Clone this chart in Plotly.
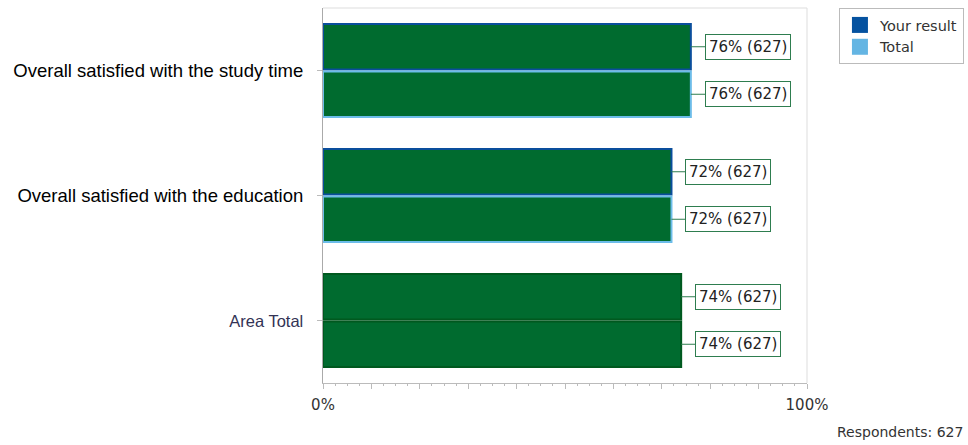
import plotly.graph_objects as go

categories = ["Overall satisfied with the study time", "Overall satisfied with the education", "Area Total"]
tick_text = [
    "<span style='font-size:18.5px;color:#000000'>Overall satisfied with the study time</span>",
    "<span style='font-size:18.5px;color:#000000'>Overall satisfied with the education</span>",
    "<span style='font-size:16.5px;color:#333355'>Area Total</span>",
]
your_result = [76, 72, 74]
total = [76, 72, 74]
counts_your = [627, 627, 627]
counts_total = [627, 627, 627]
respondents = 627
series_names = ["Your result", "Total"]

GREEN = "#006B2F"
DARKBLUE = "#0A4E9C"
LIGHTBLUE = "#6CBCE9"
AREA_EDGE = "#00591F"
LABEL_EDGE = "#2E7D4F"

idx = list(range(len(categories)))

fig = go.Figure()
fig.add_trace(go.Bar(
    y=idx, x=your_result, orientation="h", name=series_names[0], showlegend=False,
    marker=dict(color=GREEN, line=dict(color=[DARKBLUE, DARKBLUE, AREA_EDGE], width=2)),
    hoverinfo="skip",
))
fig.add_trace(go.Bar(
    y=idx, x=total, orientation="h", name=series_names[1], showlegend=False,
    marker=dict(color=GREEN, line=dict(color=[LIGHTBLUE, LIGHTBLUE, AREA_EDGE], width=2)),
    hoverinfo="skip",
))
# legend entries (blue swatches as in the reference legend)
fig.add_trace(go.Scatter(x=[None], y=[None], mode="markers", name=series_names[0],
                         marker=dict(symbol="square", size=16, color="#0552A0")))
fig.add_trace(go.Scatter(x=[None], y=[None], mode="markers", name=series_names[1],
                         marker=dict(symbol="square", size=16, color="#64B5E3")))

annotations = []
for vals, cnts, off in [(your_result, counts_your, -0.19), (total, counts_total, 0.19)]:
    for i, (v, c) in enumerate(zip(vals, cnts)):
        annotations.append(dict(
            x=v, y=i + off, xref="x", yref="y",
            text=f"{v}% ({c})", showarrow=True, arrowhead=0, arrowwidth=1,
            arrowcolor=LABEL_EDGE, ax=57, ay=0, standoff=0,
            bordercolor=LABEL_EDGE, borderwidth=1, borderpad=3, bgcolor="white",
            font=dict(family="DejaVu Sans, Liberation Sans", size=15, color="#222222"),
        ))
annotations.append(dict(
    x=1.326, y=-0.131, xref="paper", yref="paper", xanchor="right", yanchor="middle",
    text=f"Respondents: {respondents}", showarrow=False,
    font=dict(family="DejaVu Sans, Liberation Sans", size=14, color="#333333"),
))

fig.update_layout(
    width=968, height=445,
    margin=dict(l=323, r=161, t=8, b=62, autoexpand=False),
    plot_bgcolor="white", paper_bgcolor="white",
    barmode="group", bargap=0.24, bargroupgap=0.04,
    font=dict(family="Liberation Sans, Arial", size=14, color="#333333"),
    legend=dict(x=1.066, y=1.0, xanchor="left", yanchor="top",
                bordercolor="#BBBBBB", borderwidth=1,
                font=dict(family="DejaVu Sans, Liberation Sans", size=14.5, color="#333333"),
                itemsizing="trace", tracegroupgap=0),
    annotations=annotations,
    shapes=[
        dict(type="line", xref="paper", yref="paper", x0=1, x1=1, y0=0, y1=1,
             line=dict(color="#DDDDDD", width=1)),
        dict(type="line", xref="paper", yref="paper", x0=0, x1=1, y0=1, y1=1,
             line=dict(color="#DDDDDD", width=1)),
    ],
)
fig.update_xaxes(
    range=[0, 100], showgrid=False, zeroline=False,
    showline=True, linecolor="#BBBBBB", linewidth=1,
    tickmode="array", tickvals=list(range(0, 101, 10)),
    ticktext=["0%"] + [""] * 9 + ["100%"],
    ticks="outside", ticklen=5, tickcolor="#BBBBBB",
    tickfont=dict(family="DejaVu Sans, Liberation Sans", size=15, color="#333333"),
    ticklabelstandoff=3,
    minor=dict(tickmode="linear", tick0=0, dtick=2.5, ticks="outside", ticklen=2, tickcolor="#BBBBBB"),
)
fig.update_yaxes(
    range=[2.5, -0.5], showgrid=False, zeroline=False,
    showline=True, linecolor="#AAAAAA", linewidth=1,
    tickmode="array", tickvals=idx, ticktext=tick_text,
    ticks="outside", ticklen=5, tickcolor="#BBBBBB",
    tickfont=dict(family="Liberation Sans, Arial", size=18.5, color="#000000"),
    ticklabelstandoff=10,
)

fig.write_html("out.html", config={"displayModeBar": False})

# remove the browser's default page margin so the figure sits at the window's origin
with open("out.html", "r", encoding="utf-8") as f:
    html = f.read()
html = html.replace("<head>", "<head><style>html,body{margin:0;padding:0;overflow:hidden;}</style>", 1)
with open("out.html", "w", encoding="utf-8") as f:
    f.write(html)
